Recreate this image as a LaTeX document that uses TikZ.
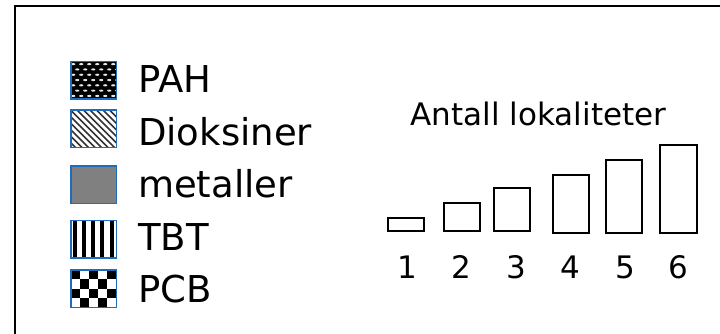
\documentclass[tikz,border=0pt]{standalone}
\usepackage{fontspec}
\setmainfont{DejaVu Sans}

\definecolor{swatchblue}{RGB}{31,108,190}
\definecolor{metalgray}{RGB}{128,128,128}

\tikzset{
  swatch/.style={draw=swatchblue, line width=1.5pt, minimum width=45.5pt,
    minimum height=37.5pt, inner sep=0pt, outer sep=0pt},
  legendtext/.style={anchor=base west, inner sep=0pt,
    font=\fontsize{37}{40}\selectfont},
  counttext/.style={anchor=base, inner sep=0pt,
    font=\fontsize{31}{34}\selectfont},
  bar/.style={draw=black, line width=2pt, minimum width=36.3pt, inner sep=0pt,
    outer sep=0pt, anchor=south}
}

% Hatch fills, drawn in a local 45.5 x 37.5 box with its top left corner at the origin
\newcommand\pahpattern{%
  \fill[black] (-1,-1) rectangle (47,39);
  \foreach \r in {0,...,7}{
    \pgfmathsetmacro\yy{2.4+\r*5.3}
    \pgfmathsetmacro\xo{mod(\r,2)*4}
    \foreach \c in {-1,...,6}{
      \fill[white!90!black] (\xo+\c*8+2.5,\yy) ellipse [x radius=2.1, y radius=1.1];
    }
  }}
\newcommand\dioxpattern{%
  \fill[white] (-1,-1) rectangle (47,39);
  \foreach \k in {-8,...,9}{
    \draw[line width=1.7pt, black!80] (\k*6.5-2,-2) -- (\k*6.5+42,42);
  }}
\newcommand\tbtpattern{%
  \fill[white] (-1,-1) rectangle (47,39);
  \foreach \k in {0,...,4}{
    \fill[black] (1.8+\k*9.3,-1) rectangle (5.8+\k*9.3,39);
  }}
\newcommand\pcbpattern{%
  \fill[white] (-1,-1) rectangle (47,39);
  \foreach \i in {0,...,4}{
    \foreach \j in {0,...,3}{
      \pgfmathtruncatemacro\cellparity{mod(\i+\j,2)}
      \ifnum\cellparity=0
        \fill[black] (\i*9.1,\j*9.4) rectangle (\i*9.1+9.1,\j*9.4+9.4);
      \fi
    }
  }}
% #1 = top left corner of the swatch, #2 = fill macro
\newcommand\hatchbox[2]{%
  \begin{scope}[shift={#1}]
    \clip (0,0) rectangle (45.5,37.5);
    #2
  \end{scope}}

\begin{document}
\begin{tikzpicture}[x=1pt, y=-1pt]
  \useasboundingbox (0,0) rectangle (720,334);

  % outer frame (only top and left edges fall inside the page)
  \draw[line width=2pt, black] (15,334) -- (15,6) -- (720,6);

  % legend fills
  \hatchbox{(70.75,61.75)}{\pahpattern}
  \hatchbox{(70.75,110.25)}{\dioxpattern}
  \hatchbox{(70.75,220.25)}{\tbtpattern}
  \hatchbox{(70.75,270.05)}{\pcbpattern}

  % legend swatch frames
  \node[swatch]                 (pah)   at (93.5,80.5)  {};
  \node[swatch]                 (diox)  at (93.5,129)   {};
  \node[swatch, fill=metalgray] (metal) at (93.5,184.5) {};
  \node[swatch]                 (tbt)   at (93.5,239)   {};
  \node[swatch]                 (pcb)   at (93.5,288.8) {};

  % legend labels
  \node[legendtext] (tpah)   at (138,92.3)  {PAH};
  \node[legendtext] (tdiox)  at (138,146)   {Dioksiner};
  \node[legendtext] (tmetal) at (138,197.3) {metaller};
  \node[legendtext] (ttbt)   at (138,250.7) {TBT};
  \node[legendtext] (tpcb)   at (138,302.7) {PCB};

  % size key
  \node[counttext] (title) at (538.5,125) {Antall lokaliteter};

  \node[bar, minimum height=13pt]   (b1) at (405.85,230.7) {};
  \node[bar, minimum height=28pt]   (b2) at (462.15,230.7) {};
  \node[bar, minimum height=43pt]   (b3) at (511.85,230.7) {};
  \node[bar, minimum height=58.3pt] (b4) at (570.85,233.3) {};
  \node[bar, minimum height=73.3pt] (b5) at (624.3,233.3)  {};
  \node[bar, minimum height=88.3pt] (b6) at (678.5,233.3)  {};

  \node[counttext] (n1) at (407.3,278.3) {1};
  \node[counttext] (n2) at (461.7,278.3) {2};
  \node[counttext] (n3) at (516,278.3)   {3};
  \node[counttext] (n4) at (570,278.3)   {4};
  \node[counttext] (n5) at (625,278.3)   {5};
  \node[counttext] (n6) at (678.3,278.3) {6};
\end{tikzpicture}
\end{document}
